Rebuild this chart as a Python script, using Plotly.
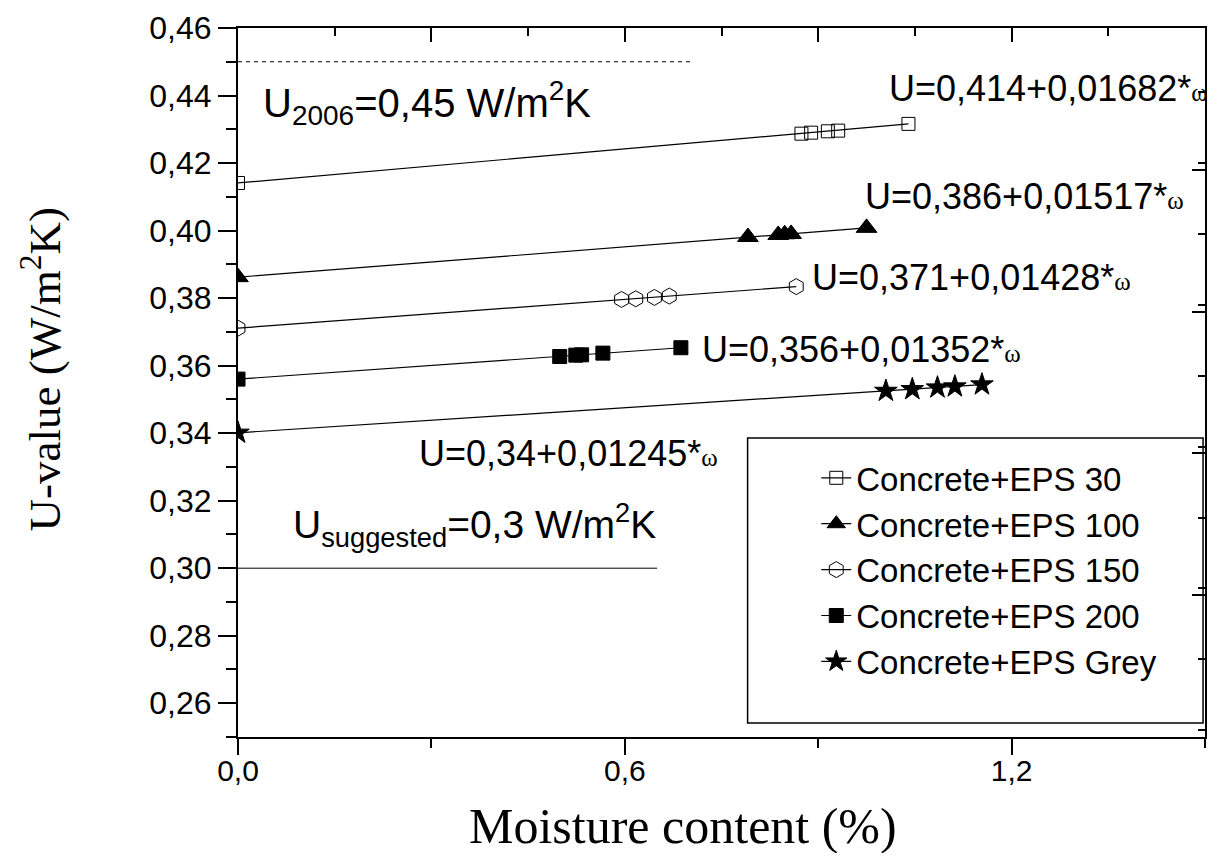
import plotly.graph_objects as go

# ---- data ----
names = ["Concrete+EPS 30", "Concrete+EPS 100", "Concrete+EPS 150",
         "Concrete+EPS 200", "Concrete+EPS Grey"]

x_eps30 = [0.0, 0.874, 0.889, 0.915, 0.931, 1.040]
y_eps30 = [0.4141, 0.4287, 0.4290, 0.4294, 0.4296, 0.4316]

x_eps100 = [0.0, 0.791, 0.838, 0.848, 0.858, 0.975]
y_eps100 = [0.3862, 0.3981, 0.3987, 0.3989, 0.3990, 0.4008]

x_eps150 = [0.0, 0.595, 0.617, 0.646, 0.669, 0.866]
y_eps150 = [0.3711, 0.3796, 0.3798, 0.3802, 0.3806, 0.3834]

x_eps200 = [0.0, 0.499, 0.524, 0.533, 0.566, 0.687]
y_eps200 = [0.3560, 0.3627, 0.3631, 0.3632, 0.3637, 0.3653]

x_grey = [0.0, 1.005, 1.046, 1.085, 1.112, 1.154]
y_grey = [0.3401, 0.3525, 0.3530, 0.3535, 0.3538, 0.3544]

# limit lines
x_u2006 = [0.0, 0.704]
y_u2006 = [0.45, 0.45]
x_usugg = [0.0, 0.65]
y_usugg = [0.30, 0.30]

# fit equations
eq_texts = ["U=0,414+0,01682*", "U=0,386+0,01517*", "U=0,371+0,01428*",
            "U=0,356+0,01352*", "U=0,34+0,01245*"]
eq_x = [1.006, 0.969, 0.887, 0.716, 0.277]
eq_y = [0.4420, 0.4100, 0.3862, 0.3648, 0.3341]

x_range = [0.0, 1.5]
y_range = [0.25, 0.46]

# ---- figure ----
SANS = "Liberation Sans, Arial, sans-serif"
SERIF = "Liberation Serif, Times New Roman, serif"

series = [
    (x_eps30, y_eps30, "square-open", 13),
    (x_eps100, y_eps100, "triangle-up", 18),
    (x_eps150, y_eps150, "hexagon-open", 16),
    (x_eps200, y_eps200, "square", 14),
    (x_grey, y_grey, "star", 17),
]

fig = go.Figure()
for (xs, ys, sym, sz), nm in zip(series, names):
    fig.add_trace(go.Scatter(
        x=xs, y=ys, name=nm, mode="lines+markers",
        line=dict(color="black", width=1.2),
        marker=dict(symbol=sym, size=sz, color="black",
                    line=dict(color="black", width=1)),
    ))

fig.add_trace(go.Scatter(x=x_u2006, y=y_u2006, mode="lines", showlegend=False,
                         xaxis="x2", yaxis="y2",
                         line=dict(color="black", width=1, dash="4px,4px")))
fig.add_trace(go.Scatter(x=x_usugg, y=y_usugg, mode="lines", showlegend=False,
                         xaxis="x2", yaxis="y2",
                         line=dict(color="black", width=1)))

annotations = []
for t, ex, ey in zip(eq_texts, eq_x, eq_y):
    annotations.append(dict(
        x=ex, y=ey, xref="x", yref="y", xanchor="left", yanchor="middle",
        text=t + '<span style="font-family:Liberation Serif;font-size:25px">ω</span>',
        showarrow=False, font=dict(family=SANS, size=36, color="black")))

annotations.append(dict(
    x=0.035, y=0.4378, xref="x", yref="y", xanchor="left", yanchor="middle",
    text="U<sub>2006</sub>=0,45 W/m<sup>2</sup>K", showarrow=False,
    font=dict(family=SANS, size=40, color="black")))
annotations.append(dict(
    x=0.082, y=0.3128, xref="x", yref="y", xanchor="left", yanchor="middle",
    text="U<sub>suggested</sub>=0,3 W/m<sup>2</sup>K", showarrow=False,
    font=dict(family=SANS, size=39, color="black")))

# axis titles
annotations.append(dict(
    x=0.460, y=-0.126, xref="paper", yref="paper", xanchor="center", yanchor="middle",
    text="Moisture content (%)", showarrow=False,
    font=dict(family=SERIF, size=50, color="black")))
annotations.append(dict(
    x=-0.203, y=0.518, xref="paper", yref="paper", xanchor="center", yanchor="middle",
    text="U-value (W/m<sup>2</sup>K)", showarrow=False, textangle=-90,
    font=dict(family=SERIF, size=45, color="black")))

fig.update_layout(
    width=1199, height=845,
    margin=dict(l=230, r=2, t=20, b=116),
    paper_bgcolor="white", plot_bgcolor="white",
    separators=",.",
    showlegend=True,
    legend=dict(x=0.598, y=0.405, xanchor="left", yanchor="top",
                bgcolor="rgba(0,0,0,0)", borderwidth=0,
                font=dict(family=SANS, size=33, color="black"),
                tracegroupgap=0),
    annotations=annotations,
    shapes=[dict(type="rect", xref="paper", yref="paper",
                 x0=0.527, x1=0.998, y0=0.0197, y1=0.4217,
                 line=dict(color="black", width=1.5))],
    xaxis=dict(range=x_range, showgrid=False, zeroline=False,
               showline=True, linecolor="black", linewidth=2,
               ticks="outside", ticklen=16, tickwidth=2, tickcolor="black",
               tick0=0, dtick=0.6, tickformat=".1f", ticklabelstandoff=-10,
               tickfont=dict(family=SANS, size=30, color="black"),
               minor=dict(ticks="outside", ticklen=9, tickwidth=2,
                          tickcolor="black", dtick=0.3, showgrid=False)),
    yaxis=dict(range=y_range, showgrid=False, zeroline=False,
               showline=True, linecolor="black", linewidth=2,
               ticks="outside", ticklen=18, tickwidth=2, tickcolor="black",
               tick0=0.26, dtick=0.02, tickformat=".2f",
               tickfont=dict(family=SANS, size=32, color="black"),
               minor=dict(ticks="outside", ticklen=10, tickwidth=2,
                          tickcolor="black", dtick=0.01, showgrid=False)),
    xaxis2=dict(range=x_range, overlaying="x", side="top", anchor="y2",
                showgrid=False, zeroline=False, showticklabels=False,
                showline=True, linecolor="black", linewidth=2,
                ticks="inside", ticklen=14, tickwidth=2, tickcolor="black",
                tick0=0, dtick=0.3,
                minor=dict(ticks="inside", ticklen=8, tickwidth=2,
                           tickcolor="black", dtick=0.15, showgrid=False)),
    yaxis2=dict(range=y_range, overlaying="y", side="right", anchor="x2",
                showgrid=False, zeroline=False, showticklabels=False,
                showline=True, linecolor="black", linewidth=2,
                ticks="inside", ticklen=13, tickwidth=2, tickcolor="black",
                tick0=0.25, dtick=0.042,
                minor=dict(ticks="inside", ticklen=7, tickwidth=2,
                           tickcolor="black", dtick=0.021, showgrid=False)),
)

fig.write_html("out.html")
